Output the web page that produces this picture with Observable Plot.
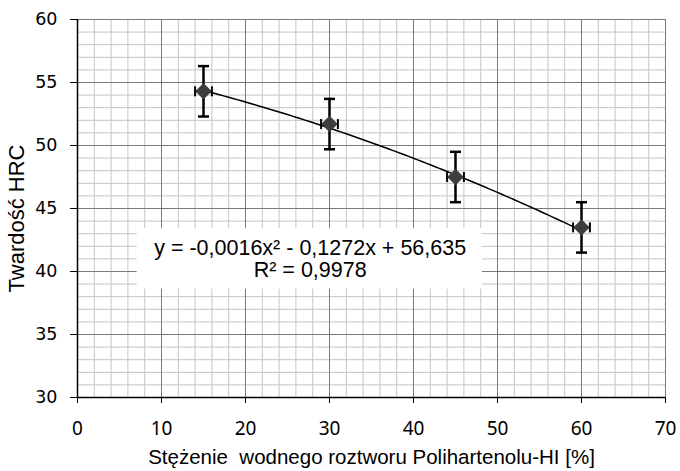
<!DOCTYPE html>
<html><head><meta charset="utf-8">
<script src="https://cdn.jsdelivr.net/npm/d3@7"></script>
<script src="https://cdn.jsdelivr.net/npm/@observablehq/plot@0.6"></script>
<style>body{margin:0;background:#fff}</style>
</head><body><div id="chart"></div>
<script>
// ---- data ----
const conc = [15, 30, 45, 60];              // x: concentration [%]
const hardness = [54.3, 51.7, 47.5, 43.5];  // y: HRC
const errY = [2, 2, 2, 2];
const errX = [1, 1, 1, 1];
const trendCoef = [-0.0016, -0.1272, 56.635]; // quadratic trendline a, b, c (from the chart's equation)
const xTicks = [0, 10, 20, 30, 40, 50, 60, 70];
const yTicks = [30, 35, 40, 45, 50, 55, 60];
const xMinor = d3.range(0, 71, 2);
const yMinor = d3.range(30, 61, 1);
const eqText = ["y = -0,0016x² - 0,1272x + 56,635", "R² = 0,9978"];
const xLabel = "Stężenie  wodnego roztworu Polihartenolu-HI [%]";
const yLabel = "Twardość HRC";
const eqBox = [{x1: 7.1, x2: 48.2, y1: 38.6, y2: 43.4, x: 27.7, y: 41.0}];

const pts = conc.map((x, i) => ({x, y: hardness[i], ey: errY[i], ex: errX[i]}));
const trendX = d3.range(15, 60.001, 0.5);
const trend = trendX.map(x => ({x, y: trendCoef[0]*x*x + trendCoef[1]*x + trendCoef[2]}));

const hCap = {draw(ctx, size){ const r = Math.sqrt(size/Math.PI); ctx.moveTo(-r,0); ctx.lineTo(r,0); }};
const vCap = {draw(ctx, size){ const r = Math.sqrt(size/Math.PI); ctx.moveTo(0,-r); ctx.lineTo(0,r); }};

const chart = Plot.plot({
  width: 680, height: 471,
  marginLeft: 77, marginRight: 15, marginTop: 19, marginBottom: 74,
  style: {fontFamily: "'Liberation Sans', Arial, sans-serif", background: "#fff", color: "#000"},
  x: {domain: [0, 70]},
  y: {domain: [30, 60]},
  marks: [
    Plot.ruleX(xMinor, {stroke: "#c4c4c4", strokeWidth: 1}),
    Plot.ruleY(yMinor, {stroke: "#c4c4c4", strokeWidth: 1}),
    Plot.ruleX(xTicks, {stroke: "#7a7a7a", strokeWidth: 1}),
    Plot.ruleY(yTicks, {stroke: "#7a7a7a", strokeWidth: 1}),
    Plot.ruleX([0], {stroke: "#000", strokeWidth: 1.5}),
    Plot.ruleY([30], {stroke: "#000", strokeWidth: 1.5}),
    Plot.axisX({ticks: xTicks, tickSize: 6, tickPadding: 18, fontSize: 19, fontFamily: "'Noto Sans', 'Open Sans', sans-serif", label: null, stroke: "#000"}),
    Plot.axisY({ticks: yTicks, tickSize: 7, tickPadding: 13, fontSize: 17.5, fontFamily: "'DejaVu Sans', sans-serif", label: null, stroke: "#000"}),
    Plot.text([xLabel], {frameAnchor: "bottom", lineAnchor: "middle", textAnchor: "middle", dy: 60, fontSize: 20.5, fontFamily: "'Liberation Sans', sans-serif"}),
    Plot.text([yLabel], {frameAnchor: "left", textAnchor: "middle", lineAnchor: "middle", rotate: -90, dx: -61, dy: 10, fontSize: 22}),
    // trendline
    Plot.line(trend, {x: "x", y: "y", stroke: "#000", strokeWidth: 1.5, curve: "natural"}),
    // vertical error bars
    Plot.ruleX(pts, {x: "x", y1: d => d.y - d.ey, y2: d => d.y + d.ey, stroke: "#000", strokeWidth: 2.5}),
    Plot.dot(pts, {x: "x", y: d => d.y - d.ey, symbol: hCap, r: 5.5, stroke: "#000", fill: "none", strokeWidth: 2.5}),
    Plot.dot(pts, {x: "x", y: d => d.y + d.ey, symbol: hCap, r: 5.5, stroke: "#000", fill: "none", strokeWidth: 2.5}),
    // horizontal error bars
    Plot.ruleY(pts, {y: "y", x1: d => d.x - d.ex, x2: d => d.x + d.ex, stroke: "#000", strokeWidth: 2}),
    Plot.dot(pts, {x: d => d.x - d.ex, y: "y", symbol: vCap, r: 5, stroke: "#000", fill: "none", strokeWidth: 2}),
    Plot.dot(pts, {x: d => d.x + d.ex, y: "y", symbol: vCap, r: 5, stroke: "#000", fill: "none", strokeWidth: 2}),
    // markers
    Plot.dot(pts, {x: "x", y: "y", symbol: "diamond2", r: 7.4, fill: "#3d3d3d", stroke: "none"}),
    // equation label box
    Plot.rect(eqBox, {x1: "x1", x2: "x2", y1: "y1", y2: "y2", fill: "#fff"}),
    Plot.text(eqBox, {x: "x", y: "y", text: () => eqText.join("\n"), fontSize: 21.5, lineHeight: 1.05, fill: "#000"})
  ]
});
document.getElementById("chart").append(chart);
</script>
</body></html>
